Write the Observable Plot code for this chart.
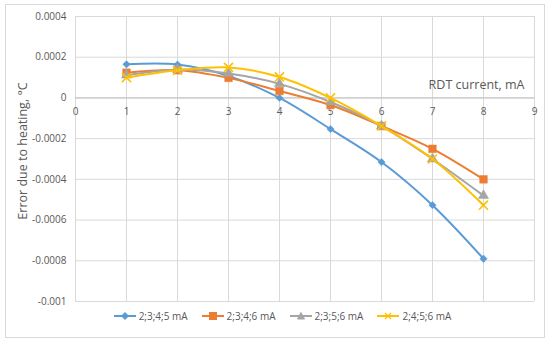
<!DOCTYPE html>
<html><head><meta charset="utf-8">
<script src="https://cdn.jsdelivr.net/npm/d3@7"></script>
<script src="https://cdn.jsdelivr.net/npm/@observablehq/plot@0.6"></script>
<style>
body{margin:0;background:#fff;font-family:"Open Sans",sans-serif;}
#wrap{position:relative;width:550px;height:345px;overflow:hidden;background:#fff}
#border{position:absolute;left:5px;top:4px;width:540px;height:334px;border:1px solid #d9d9d9;box-sizing:border-box}
#chart{position:absolute;left:0;top:0}
#legend{position:absolute;left:0;top:308px;width:550px;height:16px;display:flex;justify-content:center;align-items:center;gap:14px;font-size:10px;color:#595959;padding-left:15px;box-sizing:border-box}
.item{display:flex;align-items:center;gap:3px;white-space:nowrap}
</style></head><body>
<div id="wrap"><div id="border"></div><div id="chart"></div><div id="legend"></div></div>
<script>
const currents = [1, 2, 3, 4, 5, 6, 7, 8];
const seriesNames = ["2;3;4;5 mA", "2;3;4;6 mA", "2;3;5;6 mA", "2;4;5;6 mA"];
const s2345 = [0.000165, 0.000164, 0.000108, 0.0, -0.000153, -0.000315, -0.000527, -0.00079];
const s2346 = [0.000124, 0.000136, 0.0000985, 0.000034, -0.000035, -0.000138, -0.00025, -0.0004];
const s2356 = [0.000112, 0.000139, 0.00012, 0.000069, -0.00002, -0.000138, -0.0003, -0.00048];
const s2456 = [0.0001, 0.000136, 0.00015, 0.000103, 0.0, -0.000138, -0.0003, -0.000527];
const xTicks = [0, 1, 2, 3, 4, 5, 6, 7, 8, 9];
const yTicks = [0.0004, 0.0002, 0, -0.0002, -0.0004, -0.0006, -0.0008, -0.001];
const xTitle = "RDT current, mA";
const yTitle = "Error due to heating, °C";

const colors = ["#5B9BD5", "#ED7D31", "#A5A5A5", "#FFC000"];
const symbols = ["diamond2", "square", "triangle", "times"];
const radii = [3.3, 4.3, 3.8, 4.2];
const allSeries = [s2345, s2346, s2356, s2456];

const rows = [];
allSeries.forEach((vals, i) => vals.forEach((v, j) => rows.push({current: currents[j], value: v, series: seriesNames[i]})));

const fmt = d => d === 0 ? "0" : String(+d.toFixed(4));

const marks = [
  Plot.gridX(xTicks, {stroke: "#d9d9d9", strokeOpacity: 1}),
  Plot.gridY(yTicks, {stroke: "#d9d9d9", strokeOpacity: 1}),
  Plot.ruleY([0], {stroke: "#bfbfbf", strokeWidth: 1}),
  Plot.axisY(yTicks, {tickSize: 0, tickPadding: 9, tickFormat: fmt, label: null, fill: "#595959", fontSize: 10}),
  Plot.text(xTicks, {x: d => d, y: 0, text: d => String(d), dy: 14, fill: "#595959", fontSize: 10}),
  Plot.text([yTitle], {frameAnchor: "left", textAnchor: "middle", rotate: -90, dx: -53, dy: -8, fill: "#595959", fontSize: 12.5}),
  Plot.text([xTitle], {frameAnchor: "top-right", textAnchor: "end", dx: -10, dy: 64, fill: "#595959", fontSize: 12.5})
];
seriesNames.forEach((name, i) => {
  const data = rows.filter(r => r.series === name);
  marks.push(Plot.line(data, {x: "current", y: "value", stroke: colors[i], strokeWidth: 2, curve: "catmull-rom"}));
  marks.push(Plot.dot(data, {x: "current", y: "value", symbol: () => symbols[i], fill: colors[i], stroke: colors[i], strokeWidth: i === 3 ? 1.6 : 0.5, r: radii[i]}));
});

const chart = Plot.plot({
  width: 550,
  height: 310,
  marginLeft: 75,
  marginRight: 16,
  marginTop: 16,
  marginBottom: 9,
  style: {fontFamily: "Open Sans, sans-serif", fontSize: "10px", color: "#595959", background: "transparent"},
  x: {domain: [0, 9], axis: null},
  y: {domain: [-0.001, 0.0004], axis: null},
  symbol: {type: "identity"},
  marks
});
document.getElementById("chart").appendChild(chart);

const legend = document.getElementById("legend");
const swatchPaths = [
  '<path d="M11,1.5L14.5,5L11,8.5L7.5,5Z"/>',
  '<rect x="7.5" y="1.5" width="7" height="7"/>',
  '<path d="M11,1.5L14.5,8L7.5,8Z"/>',
  '<path d="M8,2L14,8M14,2L8,8" fill="none" stroke-width="1.4"/>'
];
seriesNames.forEach((name, i) => {
  const item = document.createElement("div");
  item.className = "item";
  item.innerHTML = `<svg width="22" height="10"><line x1="0" x2="22" y1="5" y2="5" stroke="${colors[i]}" stroke-width="2"/><g fill="${colors[i]}" stroke="${colors[i]}">${swatchPaths[i]}</g></svg><span>${name}</span>`;
  legend.appendChild(item);
});
</script>
</body></html>
